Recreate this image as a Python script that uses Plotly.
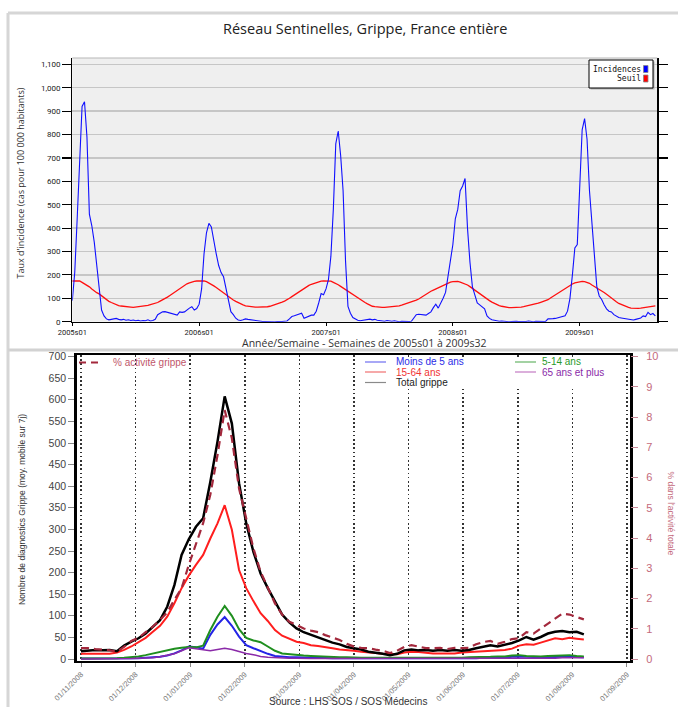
import plotly.graph_objects as go

W, H = 678, 707
def px(x): return x / W
def py(y): return 1 - y / H

# ---------------- Top chart: Réseau Sentinelles (weekly) ----------------
year_labels = ["2005s01", "2006s01", "2007s01", "2008s01", "2009s01"]

inc_2005 = [90, 210, 440, 720, 920, 940, 790, 460, 410, 340, 250, 140, 50, 25, 12, 8,
            10, 12, 14, 10, 8, 10, 6, 8, 5, 7, 4, 6, 3, 5, 4, 8, 3, 5, 10, 30,
            35, 42, 43, 40, 38, 36, 30, 28, 42, 40, 42, 52, 58, 64, 50, 56]
inc_2006 = [75, 140, 290, 380, 420, 405, 340, 290, 240, 210, 192, 140, 80, 43, 30, 15,
            7, 5, 8, 12, 10, 8, 6, 7, 4, 2, 1, 1, 0, 1, 0, 0,
            1, 0, 1, 2, 3, 12, 22, 25, 28, 30, 36, 15, 20, 24, 28, 28, 45, 80, 120, 115]
inc_2007 = [140, 180, 280, 480, 760, 815, 710, 560, 260, 65, 36, 18, 10, 6, 4, 5,
            6, 10, 11, 8, 10, 6, 4, 3, 2, 5, 3, 2, 4, 1, 0, 2,
            1, 0, 1, 2, 18, 30, 32, 30, 28, 28, 35, 42, 60, 75, 58, 78, 100, 125, 200, 260]
inc_2008 = [330, 440, 480, 560, 580, 612, 400, 255, 150, 115, 80, 72, 65, 55, 25, 14,
            8, 5, 3, 2, 3, 1, 2, 0, 1, 3, 2, 1, 0, 2, 1, 3,
            1, 0, 2, 1, 3, 0, 1, 12, 14, 13, 14, 16, 18, 20, 25, 45, 100, 200, 315, 330]
inc_2009 = [560, 820, 868, 780, 560, 420, 260, 150, 110, 95, 72, 55, 45, 42, 30, 22,
            18, 16, 14, 12, 9, 8, 7, 10, 14, 16, 25, 22, 40, 30, 35, 25]

seuil_2005 = [174, 175, 175, 174, 168, 162, 156, 149, 140, 131, 124, 119, 110, 101, 93, 87,
              82, 77, 73, 69, 67, 65, 63, 62, 62, 61, 62, 63, 65, 66, 68, 70,
              73, 75, 79, 82, 88, 93, 98, 105, 112, 119, 127, 135, 142, 149, 156, 162,
              166, 170, 172, 174]
seuil_2006 = [174, 175, 174, 171, 166, 160, 153, 146, 138, 130, 123, 117, 109, 101, 93, 87,
              81, 77, 72, 68, 66, 64, 63, 62, 62, 62, 62, 63, 64, 66, 69, 72,
              76, 80, 84, 88, 93, 100, 107, 114, 121, 128, 136, 143, 149, 155, 160, 164,
              168, 171, 173, 174]
seuil_2007 = [174, 175, 173, 168, 164, 158, 151, 144, 137, 129, 122, 114, 107, 100, 94, 88,
              82, 76, 70, 66, 64, 62, 61, 61, 61, 62, 62, 63, 64, 66, 68, 71,
              74, 77, 80, 84, 88, 92, 97, 104, 111, 118, 124, 130, 135, 140, 145, 150,
              156, 161, 166, 169]
seuil_2008 = [171, 172, 172, 169, 166, 161, 157, 150, 142, 135, 128, 120, 113, 106, 98, 90,
              84, 78, 73, 69, 66, 63, 61, 60, 60, 60, 60, 61, 62, 64, 66, 68,
              71, 74, 76, 79, 83, 86, 90, 94, 101, 108, 115, 121, 128, 136, 143, 150,
              156, 161, 166, 169]
seuil_2009 = [171, 172, 171, 168, 164, 157, 151, 145, 138, 131, 125, 117, 108, 100, 93, 85,
              78, 73, 68, 64, 61, 58, 57, 57, 57, 58, 60, 62, 64, 67, 68, 68]

inc_years = [inc_2005, inc_2006, inc_2007, inc_2008, inc_2009]
incidences = [v for yr in inc_years for v in yr]
seuil = seuil_2005 + seuil_2006 + seuil_2007 + seuil_2008 + seuil_2009
weeks = list(range(len(incidences)))
year_starts = []
acc = 0
for yr in inc_years:
    year_starts.append(acc)
    acc += len(yr)

inc_ticks = list(range(0, 1101, 100))
inc_ticktext = [f"{v:,}" for v in inc_ticks]

# ---------------- Bottom chart: SOS (daily moving average, sampled every 4 days) ----------------
month_labels = ["01/11/2008", "01/12/2008", "01/01/2009", "01/02/2009", "01/03/2009", "01/04/2009",
                "01/05/2009", "01/06/2009", "01/07/2009", "01/08/2009", "01/09/2009"]
days = list(range(0, 281, 4))

total_grippe = [18, 19, 21, 20, 21, 18, 31, 40, 48, 59, 75, 90, 121, 171, 241, 277, 306, 326,
                410, 503, 608, 545, 407, 314, 248, 198, 164, 133, 103, 85, 71, 62, 56, 49, 44, 38,
                34, 28, 25, 22, 17, 15, 12, 9, 12, 20, 22, 20, 21, 19, 21, 19, 21, 19,
                21, 25, 29, 32, 29, 33, 37, 43, 51, 45, 51, 59, 63, 65, 62, 63, 57]
age_15_64 = [12, 12, 12, 13, 12, 15, 21, 29, 39, 49, 63, 77, 98, 129, 164, 193, 218, 241,
             279, 314, 356, 299, 206, 164, 134, 106, 88, 67, 54, 47, 40, 37, 32, 30, 28, 25,
             22, 21, 19, 17, 16, 14, 12, 11, 11, 15, 17, 16, 14, 13, 13, 13, 13, 15,
             16, 17, 18, 19, 19, 21, 24, 31, 34, 33, 38, 43, 48, 46, 49, 47, 45]
age_5_14 = [1, 1, 1, 1, 2, 2, 3, 4, 6, 9, 13, 17, 20, 24, 26, 28, 27, 31,
            67, 98, 123, 100, 69, 49, 43, 39, 29, 19, 13, 11, 9, 8, 7, 6, 5, 5,
            4, 4, 3, 3, 3, 3, 2, 2, 2, 3, 3, 3, 3, 3, 3, 3, 3, 3,
            4, 4, 5, 5, 6, 6, 8, 9, 7, 6, 6, 7, 8, 9, 9, 7, 6]
age_lt5 = [1, 1, 1, 1, 1, 1, 1, 2, 2, 3, 4, 5, 8, 13, 20, 29, 27, 24,
           56, 80, 97, 77, 52, 32, 25, 18, 12, 7, 5, 4, 4, 3, 3, 3, 2, 2,
           2, 2, 2, 2, 2, 2, 1, 1, 1, 2, 2, 2, 2, 2, 2, 2, 2, 2,
           2, 2, 3, 3, 3, 3, 5, 6, 5, 4, 4, 4, 5, 5, 5, 4, 4]
age_65p = [0, 0, 0, 0, 1, 1, 1, 1, 2, 2, 3, 5, 8, 12, 19, 26, 24, 21,
           19, 22, 25, 22, 17, 13, 10, 6, 4, 3, 2, 2, 2, 1, 1, 1, 1, 1,
           1, 1, 1, 1, 1, 1, 1, 1, 1, 1, 1, 1, 1, 1, 1, 1, 1, 1,
           1, 1, 1, 1, 1, 1, 2, 2, 2, 2, 2, 2, 2, 3, 3, 3, 3]
pct_activite = [0.36, 0.36, 0.33, 0.31, 0.29, 0.24, 0.40, 0.60, 0.70, 0.89, 1.07, 1.29, 1.54, 1.96,
                2.34, 3.11, 3.83, 4.49, 5.43, 6.74, 8.23, 7.30, 5.64, 4.60, 3.66, 2.89, 2.39, 1.84,
                1.47, 1.23, 1.13, 1.01, 0.94, 0.89, 0.79, 0.71,
                0.63, 0.50, 0.41, 0.37, 0.36, 0.31, 0.27, 0.20, 0.27, 0.40, 0.46, 0.41, 0.36, 0.36,
                0.37, 0.33, 0.37, 0.36, 0.37, 0.49, 0.56, 0.60, 0.50, 0.57, 0.66, 0.69, 0.89, 0.84,
                1.01, 1.19, 1.34, 1.50, 1.47, 1.40, 1.31]

count_ticks = list(range(0, 701, 50))
pct_ticks = list(range(0, 11))
DAYS_PER_TICK = 30.4
month_tickvals = [k * DAYS_PER_TICK for k in range(len(month_labels))]

fig = go.Figure()

# top traces
fig.add_trace(go.Scatter(x=weeks, y=seuil, mode="lines", line=dict(color="#ff1010", width=1.3),
                         xaxis="x", yaxis="y", showlegend=False, hoverinfo="skip"))
fig.add_trace(go.Scatter(x=weeks, y=incidences, mode="lines", line=dict(color="#1010ff", width=1.1),
                         xaxis="x", yaxis="y", showlegend=False, hoverinfo="skip"))

# bottom traces
bottom_series = [
    (age_lt5, "#2424e6", 2.0),
    (age_5_14, "#1f8f1f", 2.0),
    (age_65p, "#8a2aa8", 1.5),
    (age_15_64, "#ff1e1e", 2.0),
    (total_grippe, "#000000", 2.5),
]
for vals, col, w in bottom_series:
    fig.add_trace(go.Scatter(x=days, y=vals, mode="lines", line=dict(color=col, width=w),
                             xaxis="x2", yaxis="y2", showlegend=False, hoverinfo="skip"))
fig.add_trace(go.Scatter(x=days, y=pct_activite, mode="lines",
                         line=dict(color="#a3283c", width=2.2, dash="8px,5px"),
                         xaxis="x2", yaxis="y3", showlegend=False, hoverinfo="skip"))

top_font = "Roboto, DejaVu Sans, sans-serif"
hum_font = "Open Sans, Noto Sans, sans-serif"
r_font = "Liberation Sans, Arial, sans-serif"

fig.update_layout(
    width=W, height=H, autosize=False,
    margin=dict(l=0, r=0, t=0, b=0, autoexpand=False),
    paper_bgcolor="white", plot_bgcolor="rgba(0,0,0,0)",
    hovermode=False,
    xaxis=dict(domain=[px(72.3), px(657.3)], range=[0, 239.8], anchor="y", automargin=False,
               showline=True, linecolor="black", linewidth=1.2, mirror=False,
               ticks="outside", ticklen=3, tickcolor="black",
               tickvals=year_starts, ticktext=year_labels,
               tickfont=dict(family=top_font, size=7.5, color="#222"),
               showgrid=False, zeroline=False),
    yaxis=dict(domain=[py(321.7), py(58)], range=[0, 1127], anchor="x", automargin=False,
               showline=True, linecolor="black", linewidth=1.2, mirror="ticks",
               ticks="outside", ticklen=9, tickcolor="black", tickwidth=1.2,
               tickvals=inc_ticks, ticktext=inc_ticktext,
               tickfont=dict(family=top_font, size=8, color="#222"),
               showgrid=True, gridcolor="#c6c6c6", gridwidth=1.5, zeroline=False),
    xaxis2=dict(domain=[px(76.7), px(630)], range=[-2.4, 305.7], anchor="y2", automargin=False,
                showline=True, linecolor="black", linewidth=2.5, mirror=True,
                ticks="outside", ticklen=4, tickcolor="#888",
                tickvals=month_tickvals, ticktext=month_labels, tickangle=-45,
                tickfont=dict(family=r_font, size=7.5, color="#777"),
                showgrid=True, gridcolor="#333", griddash="1.6px,2.6px", gridwidth=1.6,
                zeroline=False),
    yaxis2=dict(domain=[py(660.7), py(355)], range=[-3.9, 703.7], anchor="x2", automargin=False,
                showline=True, linecolor="black", linewidth=2.5, mirror=True,
                ticks="outside", ticklen=6, tickcolor="#888",
                tickvals=count_ticks,
                tickfont=dict(family=r_font, size=10.5, color="#444"),
                showgrid=False, zeroline=False),
    yaxis3=dict(overlaying="y2", side="right", anchor="x2", automargin=False,
                range=[-3.9 / 70, 703.7 / 70],
                showline=False, ticks="outside", ticklen=7, tickcolor="#c88a98",
                tickvals=pct_ticks,
                tickfont=dict(family=r_font, size=11, color="#c46a7c"),
                ticklabelstandoff=6,
                showgrid=False, zeroline=False),
)

shapes = []
def rect(x0, y0, x1, y1, fill, line_color=None, lw=0, layer="above"):
    shapes.append(dict(type="rect", xref="paper", yref="paper",
                       x0=px(x0), x1=px(x1), y0=py(y1), y1=py(y0),
                       fillcolor=fill, layer=layer,
                       line=dict(color=line_color or fill, width=lw)))
def hline(x0, x1, y, color, w, dash="solid", layer="above"):
    shapes.append(dict(type="line", xref="paper", yref="paper",
                       x0=px(x0), x1=px(x1), y0=py(y), y1=py(y),
                       line=dict(color=color, width=w, dash=dash), layer=layer))
def vline(x, y0, y1, color, w):
    shapes.append(dict(type="line", xref="paper", yref="paper",
                       x0=px(x), x1=px(x), y0=py(y0), y1=py(y1),
                       line=dict(color=color, width=w)))

# outer frame of the composite
vline(8, 13, 707, "#d6d6d6", 3)
hline(8, 678, 13, "#d6d6d6", 3)
hline(8, 678, 350, "#d2d2d2", 3)

# top plot background and top border
rect(72.3, 58, 657.3, 321.7, "#efefef", layer="below")
hline(72.3, 657.3, 58, "#b8b8b8", 1.2)

# top legend
rect(590.5, 61.5, 654.5, 89.5, "#b0b0b0", layer="above")
rect(589, 60, 653, 88, "white", "black", 1)
rect(643.5, 65.5, 648, 72.5, "#0000ff", "#888888", 0.8)
rect(643.5, 75, 648, 82, "#ff0000", "#888888", 0.8)

# bottom legend background (hides the dotted grid there)
rect(361, 357.5, 620, 388, "white")
hline(79, 101, 362.5, "#a3283c", 2, dash="7px,5px")
hline(365, 386, 362, "#6e6ef0", 1.2)
hline(365, 386, 372, "#f07070", 1.2)
hline(365, 386, 382.5, "#8a8a8a", 1.2)
hline(515, 536, 362, "#66b466", 1.2)
hline(515, 536, 372, "#c47ac4", 1.2)

annotations = []
def text(x, y, s, size, color, family, xanchor="center", yanchor="middle", angle=0):
    annotations.append(dict(x=px(x), y=py(y), xref="paper", yref="paper", text=s,
                            showarrow=False, xanchor=xanchor, yanchor=yanchor, textangle=angle,
                            font=dict(size=size, color=color, family=family)))

text(365, 28, "Réseau Sentinelles, Grippe, France entière", 14.5, "#222", hum_font)
text(364, 343, "Année/Semaine - Semaines de 2005s01 à 2009s32", 10.5, "#333", hum_font)
text(20.5, 183, "Taux d'incidence (cas pour 100 000 habitants)", 9, "#333", hum_font, angle=-90)
text(642.5, 69, "Incidences", 8, "#111", "DejaVu Sans Mono, monospace", xanchor="right")
text(642.5, 78.5, "Seuil", 8, "#111", "DejaVu Sans Mono, monospace", xanchor="right")

text(111, 362.5, "% activité grippe", 10, "#c0566a", r_font, xanchor="left")
text(394, 361.5, "Moins de 5 ans", 10, "#2a2ae6", r_font, xanchor="left")
text(394, 372, "15-64 ans", 10, "#f03434", r_font, xanchor="left")
text(394, 382.5, "Total grippe", 10, "#222", r_font, xanchor="left")
text(540, 361.5, "5-14 ans", 10, "#2a9a2a", r_font, xanchor="left")
text(540, 372, "65 ans et plus", 10, "#8a2aa8", r_font, xanchor="left")

text(22, 510, "Nombre de diagnostics Grippe (moy. mobile sur 7j)", 8.5, "#333", r_font, angle=-90)
text(670.5, 513, "% dans l'activité totale", 8.5, "#c46a7c", r_font, angle=90)
text(348, 694, "Source : LHS SOS / SOS Médecins", 10, "#333", r_font, yanchor="top")

fig.update_layout(shapes=shapes, annotations=annotations)
fig.write_html("out.html",
               config={"displayModeBar": False, "staticPlot": True},
               post_script="document.body.style.margin='0';document.body.style.padding='0';")
